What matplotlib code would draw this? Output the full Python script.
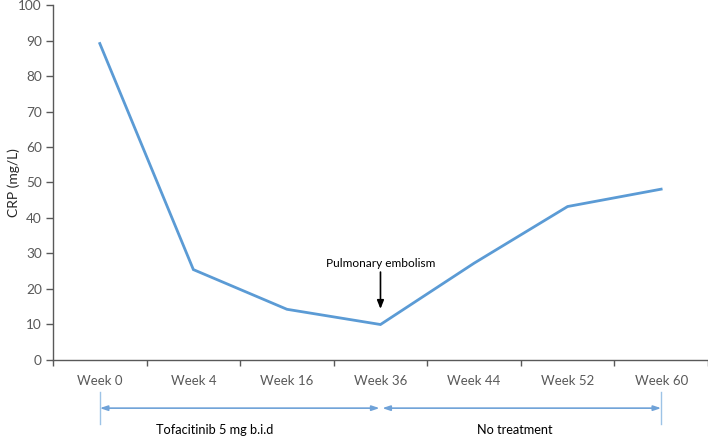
import matplotlib
matplotlib.use("Agg")
import matplotlib.pyplot as plt
from matplotlib.ticker import FixedLocator

plt.rcParams['font.family'] = ['Lato', 'DejaVu Sans']

weeks = ["Week 0", "Week 4", "Week 16", "Week 36", "Week 44", "Week 52", "Week 60"]
crp = [89.2, 25.4, 14.2, 9.9, 27.2, 43.2, 48.1]
yticks = list(range(0, 101, 10))

fig = plt.figure(figsize=(7.08, 4.38), dpi=100)
ax = fig.add_axes([0.0749, 0.179, 0.925, 0.809])

x = list(range(len(weeks)))
ax.plot(x, crp, color="#5B9BD5", lw=2.0, solid_joinstyle="miter")

grey = "#595959"
ax.set_xlim(-0.5, len(weeks) - 0.5)
ax.set_ylim(0, 100)
ax.set_yticks(yticks)
ax.set_xticks(x)
ax.set_xticklabels(weeks)
ax.xaxis.set_minor_locator(FixedLocator([i - 0.5 for i in range(len(weeks) + 1)]))
ax.tick_params(axis="x", which="major", length=0, pad=11, labelsize=9.5, colors=grey)
ax.tick_params(axis="x", which="minor", length=4, width=1, color="#595959", direction="out")
ax.tick_params(axis="y", length=5, width=1, color="#595959", labelsize=9.8, labelcolor=grey, pad=3)
for s in ["top", "right"]:
    ax.spines[s].set_visible(False)
for s in ["left", "bottom"]:
    ax.spines[s].set_color("#595959")
    ax.spines[s].set_linewidth(1)

ax.set_ylabel("CRP (mg/L)", fontsize=10, color="#262626")
ax.yaxis.set_label_coords(-0.051, 0.5)

# Pulmonary embolism annotation
ax.annotate("", xy=(3, 14.3), xytext=(3, 24.7),
            arrowprops=dict(arrowstyle="-|>,head_length=0.5,head_width=0.2", color="black", lw=1.2,
                            shrinkA=0, shrinkB=0))
ax.text(3, 27.0, "Pulmonary embolism", ha="center", va="center", fontsize=8.6, color="black")

# treatment periods below axis
tr = ax.get_xaxis_transform()
acol = "#6FA2D8"
ay = -0.137
for xv in [0, 6]:
    ax.plot([xv, xv], [-0.092, -0.182], transform=tr, color="#9DC3E6", lw=1, clip_on=False)
ax.annotate("", xy=(0, ay), xytext=(2.99, ay), xycoords=tr, textcoords=tr,
            arrowprops=dict(arrowstyle="<|-|>,head_length=0.45,head_width=0.15", color=acol, lw=1.2,
                            shrinkA=0, shrinkB=0))
ax.annotate("", xy=(3.02, ay), xytext=(6, ay), xycoords=tr, textcoords=tr,
            arrowprops=dict(arrowstyle="<|-|>,head_length=0.45,head_width=0.15", color=acol, lw=1.2,
                            shrinkA=0, shrinkB=0))
ax.text(1.23, -0.199, "Tofacitinib 5 mg b.i.d", transform=tr, ha="center", va="center", fontsize=9.2, color="black")
ax.text(4.44, -0.199, "No treatment", transform=tr, ha="center", va="center", fontsize=9.2, color="black")

fig.savefig("out.png", dpi=100)
